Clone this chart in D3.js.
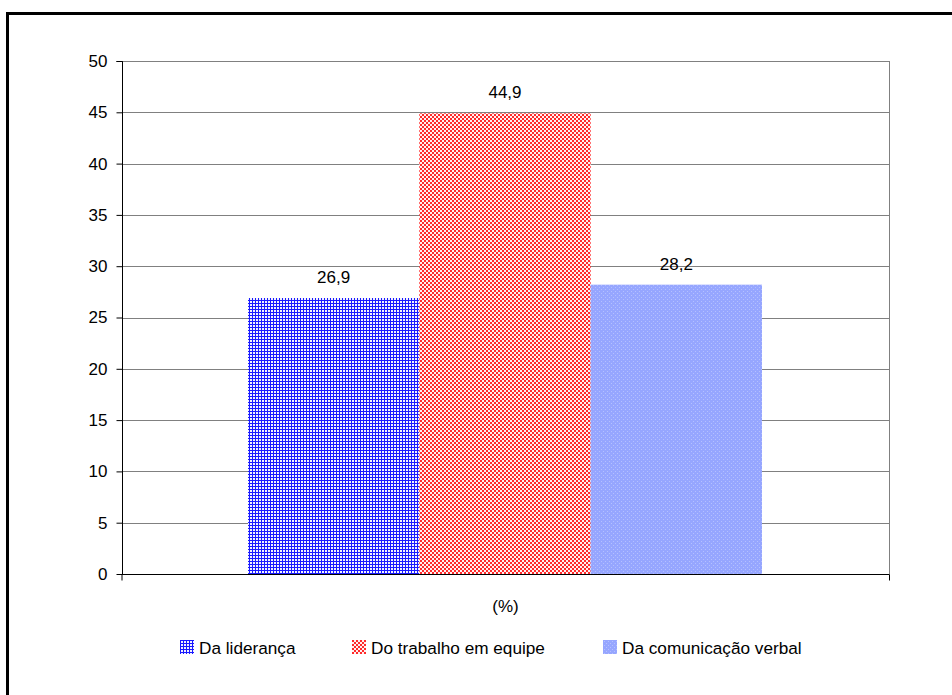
<!DOCTYPE html>
<html><head><meta charset="utf-8">
<script src="https://cdn.jsdelivr.net/npm/d3@7"></script>
<style>body{margin:0;background:#fff}svg{display:block;font-family:"Liberation Sans",Arial,sans-serif}</style>
</head><body>
<svg id="c" width="952" height="695"></svg>
<script>
const categories = ["(%)"];
const seriesNames = ["Da liderança", "Do trabalho em equipe", "Da comunicação verbal"];
const seriesValues = [26.9, 44.9, 28.2];
const valueLabels = ["26,9", "44,9", "28,2"];
const yTicks = [0, 5, 10, 15, 20, 25, 30, 35, 40, 45, 50];

const svg = d3.select("#c");
const defs = svg.append("defs");

// blue grid pattern
const p1 = defs.append("pattern").attr("id","p1").attr("patternUnits","userSpaceOnUse").attr("width",3).attr("height",3);
p1.append("rect").attr("width",3).attr("height",3).attr("fill","#1a1aff");
p1.append("rect").attr("x",1).attr("y",1).attr("width",2).attr("height",2).attr("fill","#ffffff");
p1.append("rect").attr("x",1.6).attr("y",1.6).attr("width",0.8).attr("height",0.8).attr("fill","#b0b0ff");
// red checker
const p2 = defs.append("pattern").attr("id","p2").attr("patternUnits","userSpaceOnUse").attr("width",4).attr("height",4);
p2.append("rect").attr("width",4).attr("height",4).attr("fill","#fff0f0");
p2.append("rect").attr("x",0).attr("y",0).attr("width",2).attr("height",2).attr("fill","#ff2a2a");
p2.append("rect").attr("x",2).attr("y",2).attr("width",2).attr("height",2).attr("fill","#ff2a2a");
// light blue dotted
const p3 = defs.append("pattern").attr("id","p3").attr("patternUnits","userSpaceOnUse").attr("width",4).attr("height",4);
p3.append("rect").attr("width",4).attr("height",4).attr("fill","#96a6ff");
p3.append("rect").attr("x",1).attr("y",1).attr("width",1).attr("height",1).attr("fill","#b4c0ff");
p3.append("rect").attr("x",3).attr("y",3).attr("width",1).attr("height",1).attr("fill","#b4c0ff");
const fills = ["url(#p1)","url(#p2)","url(#p3)"];

// outer border
svg.append("rect").attr("x",7.5).attr("y",13.5).attr("width",960).attr("height",700)
  .attr("fill","none").attr("stroke","#000").attr("stroke-width",3);

const pLeft = 122, pRight = 889, pTop = 61, pBottom = 574;
const x0 = d3.scaleBand().domain(categories).range([pLeft, pRight]).paddingInner(0).paddingOuter(0);
const x1 = d3.scaleBand().domain(seriesNames).range([248, 762]);
const y = d3.scaleLinear().domain([0, 50]).range([pBottom, pTop]);

// gridlines
svg.append("g").selectAll("line").data(yTicks.filter(d=>d>0)).join("line")
  .attr("x1",pLeft).attr("x2",pRight).attr("y1",d=>Math.round(y(d))+0.5).attr("y2",d=>Math.round(y(d))+0.5)
  .attr("stroke","#808080").attr("stroke-width",1);
// right border of plot
svg.append("line").attr("x1",pRight+0.5).attr("x2",pRight+0.5).attr("y1",pTop).attr("y2",pBottom)
  .attr("stroke","#808080");

// bars
svg.append("g").selectAll("rect").data(seriesValues).join("rect")
  .attr("x",(d,i)=>x1(seriesNames[i]))
  .attr("width",x1.bandwidth())
  .attr("y",d=>y(d)).attr("height",d=>pBottom-y(d))
  .attr("fill",(d,i)=>fills[i]);

// value labels
svg.append("g").selectAll("text").data(seriesValues).join("text")
  .attr("x",(d,i)=>x1(seriesNames[i])+x1.bandwidth()/2)
  .attr("y",d=>y(d)-15)
  .attr("text-anchor","middle").attr("font-size",17).attr("fill","#000")
  .text((d,i)=>valueLabels[i]);

// y axis
const ya = svg.append("g").attr("transform",`translate(${pLeft+0.5},0)`)
  .call(d3.axisLeft(y).tickValues(yTicks).tickSize(6).tickPadding(9).tickFormat(d=>String(d)));
ya.select(".domain").attr("stroke","#000").attr("d",`M-6,${y(50)+0.5}H0V${pBottom+0.5}`);
ya.selectAll(".tick line").attr("stroke","#000");
ya.selectAll(".tick text").attr("font-size",17).attr("fill","#000").attr("font-family","Liberation Sans, Arial, sans-serif");

// x axis
const xa = svg.append("g").attr("transform",`translate(0,${pBottom+0.5})`)
  .call(d3.axisBottom(x0).tickSize(0).tickPadding(25));
xa.select(".domain").attr("stroke","#000").attr("d",`M${pLeft},6V0H${pRight+0.5}V6`);
xa.selectAll(".tick text").attr("font-size",17).attr("fill","#000").attr("font-family","Liberation Sans, Arial, sans-serif");

// legend
const legX = [180, 352, 603];
const lg = svg.append("g").selectAll("g").data(seriesNames).join("g")
  .attr("transform",(d,i)=>`translate(${legX[i]},640)`);
lg.append("rect").attr("width",14).attr("height",14).attr("fill",(d,i)=>fills[i]);
lg.append("text").attr("x",19).attr("y",13.5).attr("font-size",17.2).attr("fill","#000").text(d=>d);
</script>
</body></html>
